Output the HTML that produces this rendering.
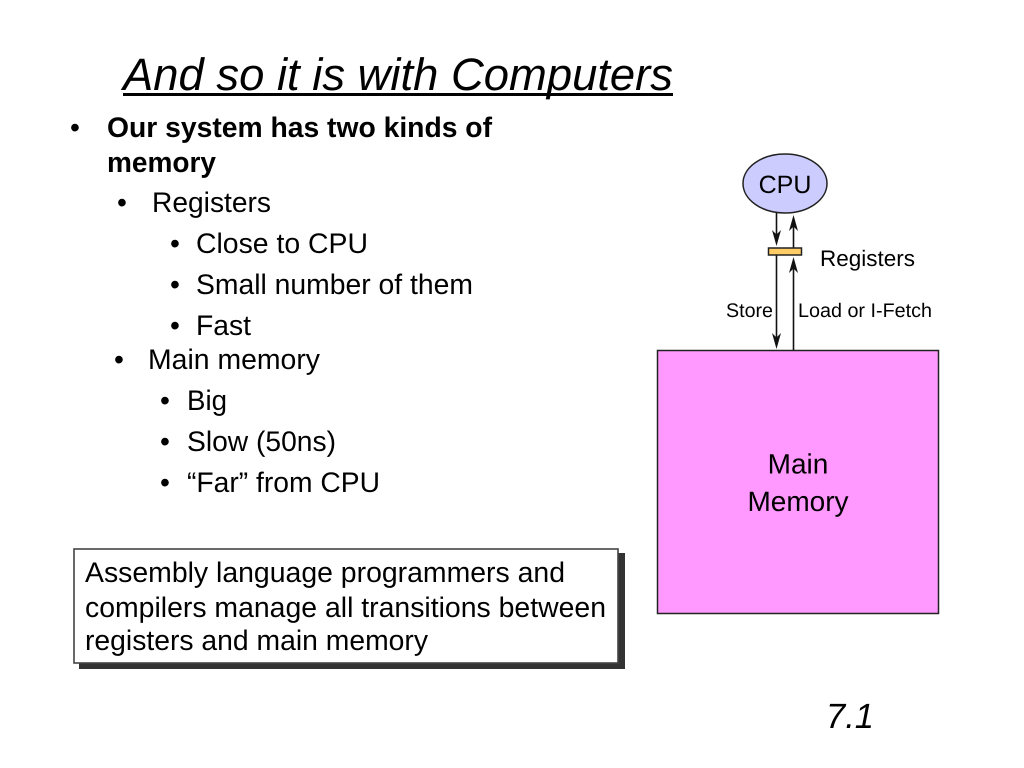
<!DOCTYPE html>
<html><head><meta charset="utf-8"><style>
html,body{margin:0;padding:0;background:#fff;width:1024px;height:768px;overflow:hidden}
svg{display:block}
text{font-family:"Liberation Sans",sans-serif;fill:#000;text-rendering:geometricPrecision}
</style></head><body>
<svg width="1024" height="768" viewBox="0 0 1024 768" xmlns="http://www.w3.org/2000/svg">
<text x="123" y="90" font-size="45.400" font-style="italic" textLength="550" lengthAdjust="spacingAndGlyphs">And so it is with Computers</text>
<rect x="123" y="93" width="550" height="3" fill="#000"/>

<g font-size="28.300">
<text x="70" y="137">•</text>
<text x="107" y="137" font-weight="bold" textLength="385" lengthAdjust="spacingAndGlyphs">Our system has two kinds of</text>
<text x="107" y="172" font-weight="bold" textLength="109" lengthAdjust="spacingAndGlyphs">memory</text>
<text x="117" y="212">•</text>
<text x="152" y="212" textLength="119" lengthAdjust="spacingAndGlyphs">Registers</text>
<text x="170" y="253">•</text>
<text x="196" y="253" textLength="172" lengthAdjust="spacingAndGlyphs">Close to CPU</text>
<text x="170" y="294">•</text>
<text x="196" y="294" textLength="277" lengthAdjust="spacingAndGlyphs">Small number of them</text>
<text x="170" y="335">•</text>
<text x="196" y="335" textLength="55" lengthAdjust="spacingAndGlyphs">Fast</text>
<text x="114" y="369">•</text>
<text x="148" y="369" textLength="172" lengthAdjust="spacingAndGlyphs">Main memory</text>
<text x="160" y="410">•</text>
<text x="187" y="410" textLength="40" lengthAdjust="spacingAndGlyphs">Big</text>
<text x="160" y="451">•</text>
<text x="187" y="451" textLength="149" lengthAdjust="spacingAndGlyphs">Slow (50ns)</text>
<text x="160" y="492">•</text>
<text x="187" y="492" textLength="193" lengthAdjust="spacingAndGlyphs">“Far” from CPU</text>
</g>

<rect x="79" y="553" width="546" height="116" fill="#333"/>
<rect x="74" y="549" width="544" height="114" fill="#fff" stroke="#444" stroke-width="1.600"/>
<g font-size="28.300">
<text x="85" y="582" textLength="480" lengthAdjust="spacingAndGlyphs">Assembly language programmers and</text>
<text x="85" y="617" textLength="521" lengthAdjust="spacingAndGlyphs">compilers manage all transitions between</text>
<text x="85" y="650" textLength="343" lengthAdjust="spacingAndGlyphs">registers and main memory</text>
</g>

<rect x="657.500" y="350.500" width="281" height="263" fill="#ff99ff" stroke="#222" stroke-width="1.500"/>
<g font-size="28" text-anchor="middle">
<text x="798" y="473.500">Main</text>
<text x="798" y="511">Memory</text>
</g>

<ellipse cx="785" cy="183.500" rx="42" ry="29.500" fill="#ccccff" stroke="#222" stroke-width="1.500"/>
<text x="785" y="193" font-size="25" text-anchor="middle">CPU</text>

<g stroke="#111" stroke-width="1.600" fill="none">
<line x1="776.500" y1="213" x2="776.500" y2="240"/>
<line x1="793.500" y1="222" x2="793.500" y2="248"/>
<line x1="776.500" y1="255" x2="776.500" y2="342"/>
<line x1="793.500" y1="265" x2="793.500" y2="350"/>
</g>
<g fill="#111">
<polygon points="776.500,246 772,230 776.500,234.500 781,230"/>
<polygon points="776.500,349 772,333 776.500,337.500 781,333"/>
<polygon points="793.500,215 789,231 793.500,226.500 798,231"/>
<polygon points="793.500,257 789,273 793.500,268.500 798,273"/>
</g>
<rect x="768.500" y="248" width="33" height="7" fill="#ffcc66" stroke="#222" stroke-width="1.500"/>

<text x="820" y="266" font-size="22.500" textLength="95" lengthAdjust="spacingAndGlyphs">Registers</text>
<text x="726" y="317" font-size="19.700" textLength="47" lengthAdjust="spacingAndGlyphs">Store</text>
<text x="798" y="317" font-size="19.700" textLength="134" lengthAdjust="spacingAndGlyphs">Load or I-Fetch</text>

<text x="826" y="728" font-size="35" font-style="italic" textLength="48" lengthAdjust="spacingAndGlyphs">7.1</text>
</svg>
</body></html>
